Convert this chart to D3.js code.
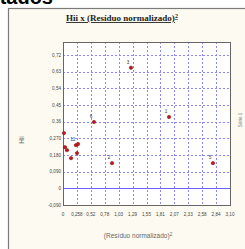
<!DOCTYPE html>
<html>
<head>
<meta charset="utf-8">
<script src="https://cdn.jsdelivr.net/npm/d3@7"></script>
<style>
  html, body { margin: 0; padding: 0; background: #fff; overflow: hidden; }
</style>
</head>
<body>
<svg id="chart"></svg>
<script>
'use strict';

// point labels and values (residuo normalizado ^2, Hii)
const pointIds = ['1', '2', '3', '4', '5', '6', '7', '8', '9', '10', '11', '12'];
const residuo2 = [1.968, 0.91, 1.262, 0.019, 2.784, 0.575, 0.037, 0.074, 0.149, 0.26, 0.24, 0.28];
const hii = [0.385, 0.136, 0.651, 0.298, 0.136, 0.358, 0.222, 0.206, 0.163, 0.19, 0.233, 0.239];
const shownLabels = ['1', '2', '3', '5', '6', '11'];

const xTickLabels = ['0', '0,258', '0,52', '0,78', '1,03', '1,29', '1,55', '1,81', '2,07', '2,33', '2,58', '2,84', '3,10'];
const yTickLabels = ['-0,090', '0', '0,090', '0,180', '0,270', '0,36', '0,45', '0,54', '0,63', '0,72'];

(function () {
    const width = 245;
    const height = 249;
    const svg = d3.select('#chart').attr('width', width).attr('height', height);

    // page heading above the chart, cut by the window top
    svg.append('text')
        .attr('x', 53).attr('y', 4)
        .attr('text-anchor', 'end')
        .attr('font-family', 'Liberation Sans, Arial, sans-serif')
        .attr('font-weight', 'bold')
        .attr('font-size', 20)
        .attr('fill', '#000')
        .text('Resultados');

    // chart frame
    svg.append('rect')
        .attr('x', 8.5).attr('y', 8.5)
        .attr('width', 245).attr('height', 260)
        .attr('fill', '#fdfbf1')
        .attr('stroke', '#7a7a7a')
        .attr('stroke-width', 1.2);

    const title = svg.append('text')
        .attr('x', 122).attr('y', 21)
        .attr('text-anchor', 'middle')
        .attr('font-family', 'Liberation Serif, Times New Roman, serif')
        .attr('font-weight', 'bold')
        .attr('font-size', 9)
        .attr('fill', '#222')
        .attr('text-decoration', 'underline');
    title.append('tspan').text('Hii x (Resíduo normalizado)');
    title.append('tspan').attr('font-size', 6).attr('dy', -3).text('2');

    const m = { left: 63, top: 42, right: 230, bottom: 205 };

    const x = d3.scaleLinear().domain([0, 3.10]).range([m.left, m.right]);
    const y = d3.scaleLinear().domain([-0.09, 0.7898]).range([m.bottom, m.top]);

    const xTicks = xTickLabels.map((d, i) => i * 3.10 / 12);
    const yTicks = yTickLabels.map((d, i) => -0.09 + i * 0.09);

    svg.append('rect')
        .attr('x', m.left).attr('y', m.top)
        .attr('width', m.right - m.left).attr('height', m.bottom - m.top)
        .attr('fill', '#fff');

    const grid = svg.append('g')
        .attr('stroke', '#8c86ff')
        .attr('stroke-width', 1)
        .attr('stroke-dasharray', '2,2');

    grid.selectAll('.vg')
        .data(xTicks.slice(1, -1))
        .enter().append('line')
        .attr('x1', d => Math.round(x(d)) + 0.5).attr('x2', d => Math.round(x(d)) + 0.5)
        .attr('y1', m.top).attr('y2', m.bottom);

    grid.selectAll('.hg')
        .data(yTicks.filter(d => d !== 0))
        .enter().append('line')
        .attr('x1', m.left).attr('x2', m.right)
        .attr('y1', d => Math.round(y(d)) + 0.5).attr('y2', d => Math.round(y(d)) + 0.5);

    // zero line
    svg.append('line')
        .attr('x1', m.left).attr('x2', m.right)
        .attr('y1', Math.round(y(0)) + 0.5).attr('y2', Math.round(y(0)) + 0.5)
        .attr('stroke', '#6b63ff')
        .attr('stroke-width', 1.2);

    svg.append('rect')
        .attr('x', m.left + 0.5).attr('y', m.top + 0.5)
        .attr('width', m.right - m.left).attr('height', m.bottom - m.top)
        .attr('fill', 'none')
        .attr('stroke', '#666')
        .attr('stroke-width', 1);

    const tickFont = 'Liberation Sans, Arial, sans-serif';

    svg.append('g').selectAll('text')
        .data(yTicks)
        .enter().append('text')
        .attr('x', m.left - 2)
        .attr('y', d => y(d) + 1.7)
        .attr('text-anchor', 'end')
        .attr('font-family', tickFont)
        .attr('font-size', 4.6)
        .attr('fill', '#444')
        .text((d, i) => yTickLabels[i]);

    svg.append('g').selectAll('text')
        .data(xTicks)
        .enter().append('text')
        .attr('x', d => x(d))
        .attr('y', 216)
        .attr('text-anchor', 'middle')
        .attr('font-family', tickFont)
        .attr('font-size', 4.6)
        .attr('fill', '#444')
        .text((d, i) => xTickLabels[i]);

    const xTitle = svg.append('text')
        .attr('x', 138).attr('y', 238)
        .attr('text-anchor', 'middle')
        .attr('font-family', tickFont)
        .attr('font-size', 6.5)
        .attr('fill', '#666');
    xTitle.append('tspan').text('(Resíduo normalizado)');
    xTitle.append('tspan').attr('font-size', 4.5).attr('dy', -2.5).text('2');

    svg.append('text')
        .attr('transform', 'translate(24,140) rotate(-90)')
        .attr('text-anchor', 'middle')
        .attr('font-family', tickFont)
        .attr('font-size', 6.5)
        .attr('fill', '#666')
        .text('Hii');

    // legend text at right edge
    svg.append('text')
        .attr('transform', 'translate(242,120) rotate(-90)')
        .attr('text-anchor', 'middle')
        .attr('font-family', tickFont)
        .attr('font-size', 4.5)
        .attr('fill', '#777')
        .text('Série 1');

    const pts = pointIds.map((id, i) => ({ id: id, rx: residuo2[i], h: hii[i] }));

    svg.append('g').selectAll('circle')
        .data(pts)
        .enter().append('circle')
        .attr('cx', d => x(d.rx))
        .attr('cy', d => y(d.h))
        .attr('r', 1.7)
        .attr('fill', '#d0141c')
        .attr('stroke', '#6a1010')
        .attr('stroke-width', 0.5);

    svg.append('g').selectAll('text')
        .data(pts.filter(d => shownLabels.includes(d.id)))
        .enter().append('text')
        .attr('x', d => x(d.rx) - 3)
        .attr('y', d => y(d.h) - 4)
        .attr('text-anchor', 'middle')
        .attr('font-family', tickFont)
        .attr('font-size', 4.6)
        .attr('fill', '#333')
        .text(d => d.id);
})();
</script>
</body>
</html>
